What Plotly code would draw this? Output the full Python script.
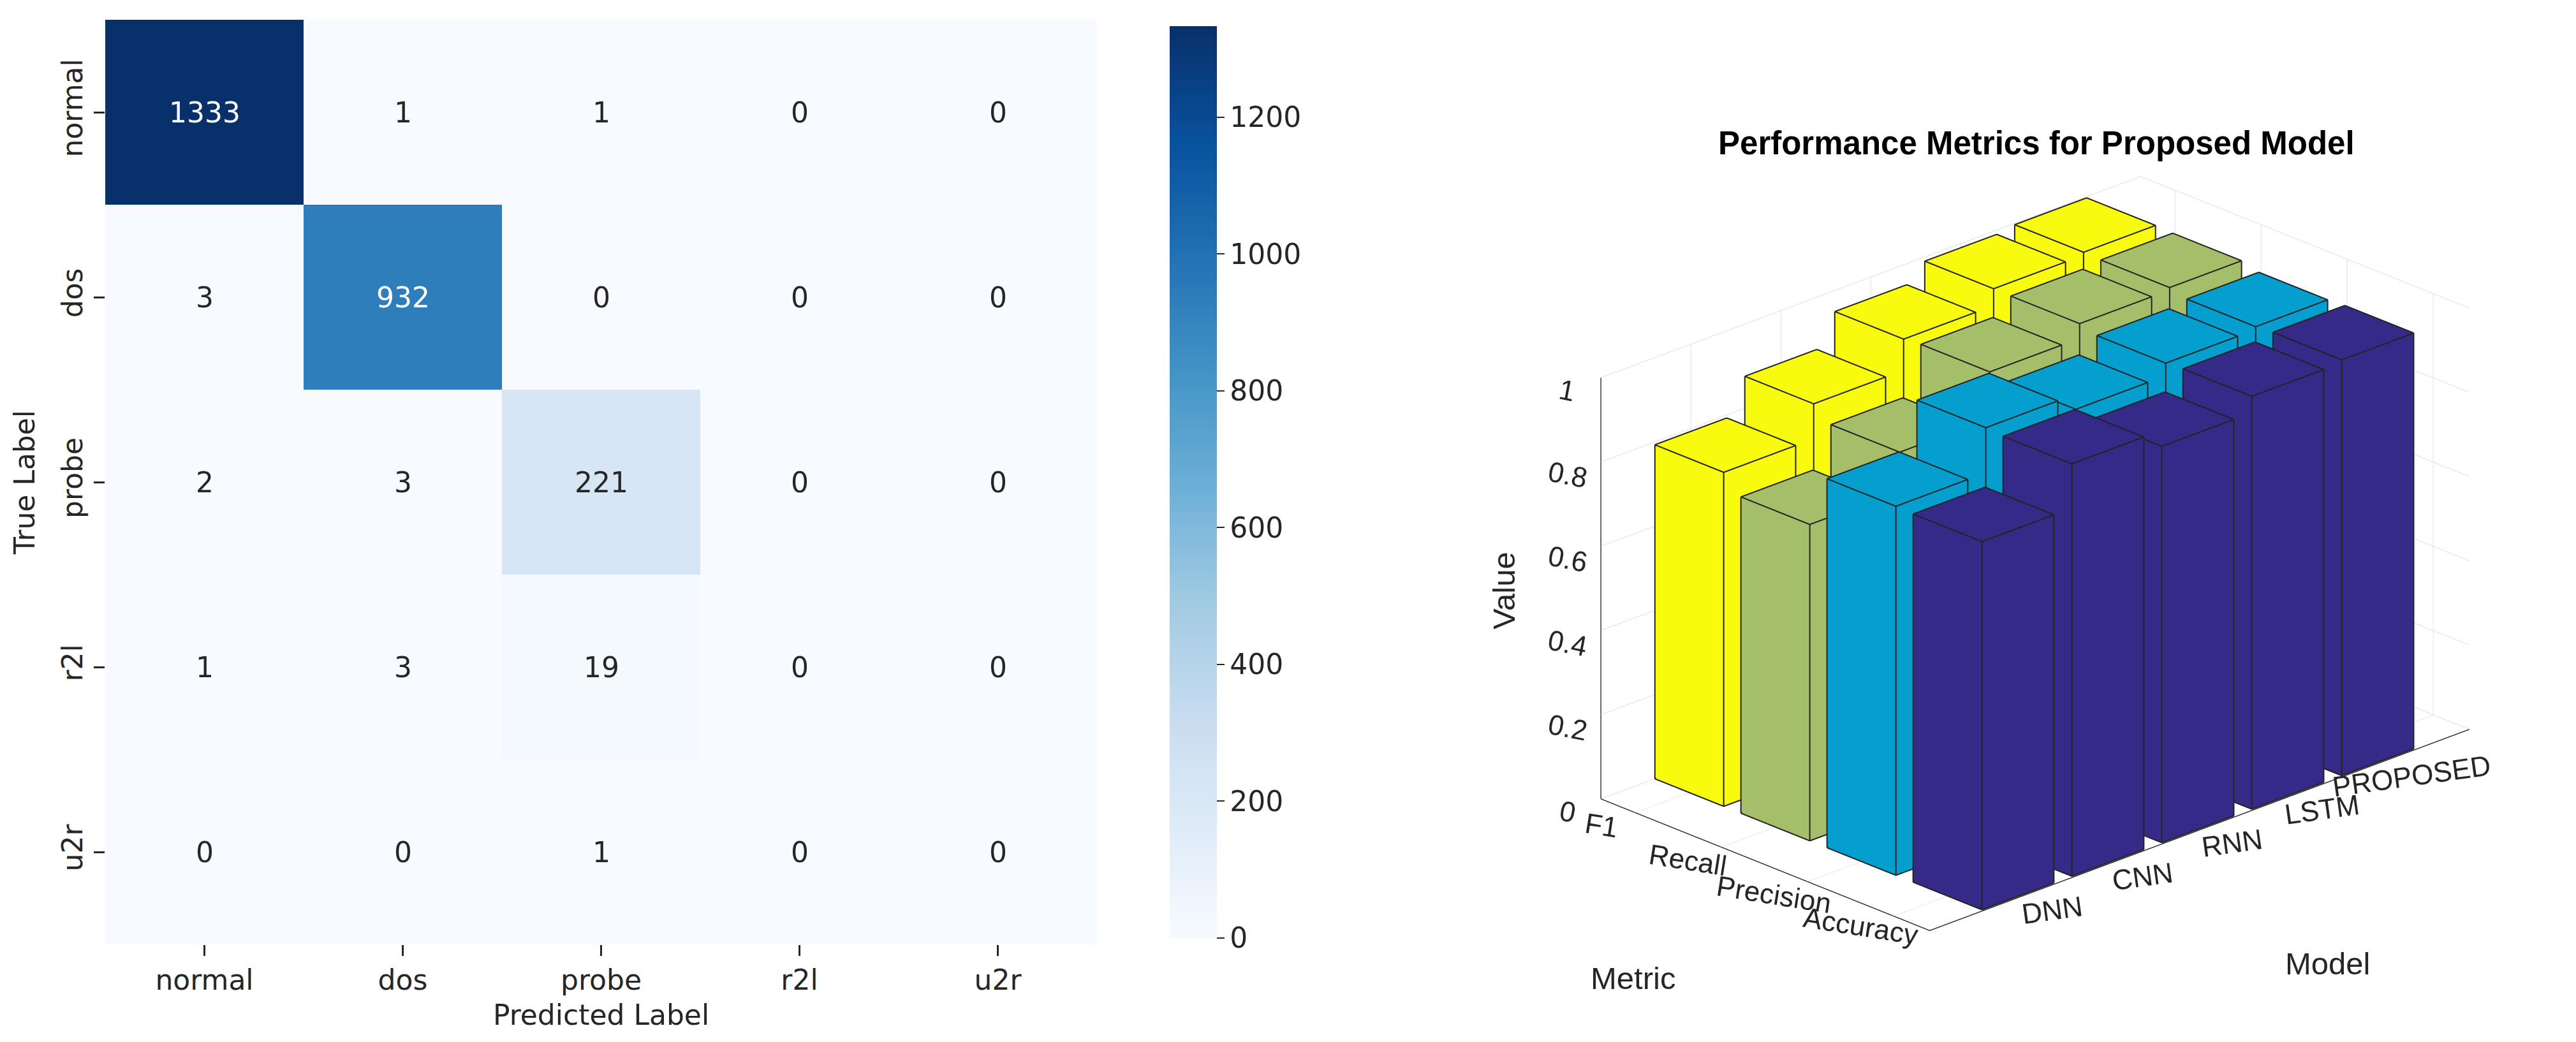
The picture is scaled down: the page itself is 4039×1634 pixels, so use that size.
import plotly.graph_objects as go

W, H = 4039, 1634

# confusion matrix (left panel)
classes = ["normal", "dos", "probe", "r2l", "u2r"]
cm = [
    [1333, 1, 1, 0, 0],
    [3, 932, 0, 0, 0],
    [2, 3, 221, 0, 0],
    [1, 3, 19, 0, 0],
    [0, 0, 1, 0, 0],
]
cbar_ticks = [0, 200, 400, 600, 800, 1000, 1200]

# performance metrics (right panel), one list per metric, ordered like models
models = ["DNN", "CNN", "RNN", "LSTM", "PROPOSED"]
metrics = ["Accuracy", "Precision", "Recall", "F1"]
accuracy = [0.874, 0.979, 0.941, 0.980, 0.987]
precision = [0.876, 0.983, 0.947, 0.977, 0.984]
recall = [0.751, 0.843, 0.954, 0.989, 0.995]
f1 = [0.793, 0.876, 0.950, 0.990, 0.997]
value_ticks = [0, 0.2, 0.4, 0.6, 0.8, 1]

scores = [accuracy, precision, recall, f1]
bar_colors = ["#352a87", "#059fcf", "#a5be6a", "#f9fb0e"]
edge_color = "#232323"
half = 0.4  # bar3 default width 0.8

# view / box settings for the 3D panel
x_rng, y_rng, z_rng = [0, 6], [0.58, 4.4], [0, 1]
s = 1.68
aspect = dict(x=1 * s, y=0.628 * s * (y_rng[1] - y_rng[0]) / 3.8, z=0.609 * s)
view_dir = (-0.64043, -0.66372, 0.38640)
r = 1.8

fig = go.Figure()

# ---- heatmap ----
zmax = max(max(row) for row in cm)
fig.add_trace(go.Heatmap(
    z=cm, x=classes, y=classes,
    colorscale="Blues", zmin=0, zmax=zmax,
    xaxis="x", yaxis="y", hoverinfo="skip",
    colorbar=dict(
        x=1816 / W, xanchor="left", y=1 - 748 / H, yanchor="middle",
        len=1450 / H, lenmode="fraction", thickness=74, thicknessmode="pixels",
        outlinewidth=0, ticks="outside", ticklen=12, tickwidth=2, tickcolor="#262626",
        tickvals=cbar_ticks, ticklabelposition="outside",
        tickfont=dict(family="DejaVu Sans", size=44, color="#262626"),
    ),
))

annotations = []
for ri, row in enumerate(cm):
    for c, v in enumerate(row):
        annotations.append(dict(
            x=classes[c], y=classes[ri], xref="x", yref="y", text=str(v),
            showarrow=False,
            font=dict(family="DejaVu Sans", size=44,
                      color="#ffffff" if v > zmax / 2 else "#262626"),
        ))

# ---- 3D bars ----
faces = [(0, 1, 2), (0, 2, 3), (4, 5, 6), (4, 6, 7), (0, 1, 5), (0, 5, 4),
         (1, 2, 6), (1, 6, 5), (2, 3, 7), (2, 7, 6), (3, 0, 4), (3, 4, 7)]
edges = [(0, 1), (1, 2), (2, 3), (3, 0), (4, 5), (5, 6), (6, 7), (7, 4),
         (0, 4), (1, 5), (2, 6), (3, 7)]


def corners(xc, yc, top, h):
    x0, x1, y0, y1 = xc - h, xc + h, yc - h, yc + h
    return [(x0, y0, 0), (x1, y0, 0), (x1, y1, 0), (x0, y1, 0),
            (x0, y0, top), (x1, y0, top), (x1, y1, top), (x0, y1, top)]


# nudge the edge lines a little toward the (orthographic) camera so they win the depth test
nudge = 0.006
off = (
    nudge * view_dir[0] * (x_rng[1] - x_rng[0]) / aspect["x"],
    nudge * view_dir[1] * (y_rng[1] - y_rng[0]) / aspect["y"],
    nudge * view_dir[2] * (z_rng[1] - z_rng[0]) / aspect["z"],
)

ex, ey, ez = [], [], []
for m, vals in enumerate(scores):
    xs, ys, zs, ii, jj, kk = [], [], [], [], [], []
    for k, v in enumerate(vals):
        base = len(xs)
        pts = corners(k + 1, m + 1, v, half)
        for (x, y, z) in pts:
            xs.append(x)
            ys.append(y)
            zs.append(z)
        for a, b, c in faces:
            ii.append(base + a)
            jj.append(base + b)
            kk.append(base + c)
        for a, b in edges:
            ex += [pts[a][0] + off[0], pts[b][0] + off[0], None]
            ey += [pts[a][1] + off[1], pts[b][1] + off[1], None]
            ez += [pts[a][2] + off[2], pts[b][2] + off[2], None]
    fig.add_trace(go.Mesh3d(
        x=xs, y=ys, z=zs, i=ii, j=jj, k=kk, color=bar_colors[m],
        flatshading=True, hoverinfo="skip", showscale=False,
        lighting=dict(ambient=1, diffuse=0, specular=0, roughness=1, fresnel=0),
        scene="scene", name=metrics[m],
    ))

fig.add_trace(go.Scatter3d(
    x=ex, y=ey, z=ez, mode="lines", line=dict(color=edge_color, width=4),
    hoverinfo="skip", scene="scene", showlegend=False,
))

axis_font = dict(family="Liberation Sans", size=23, color="#262626")


def scene_axis(rng, tickvals, ticktext, angle, tlen):
    # long white ticks push the labels out, like MATLAB's label offset
    return dict(
        title=dict(text=""), range=rng,
        tickvals=tickvals, ticktext=ticktext, tickfont=axis_font, tickangle=angle,
        showgrid=True, gridcolor="#dedede", gridwidth=2,
        showline=True, linecolor="#262626", linewidth=3,
        ticks="outside", tickcolor="#ffffff", ticklen=tlen, tickwidth=1,
        zeroline=False, showbackground=False, showspikes=False,
    )


label_font = dict(family="Liberation Sans", size=49, color="#262626")
axis_titles = [
    dict(text="Value", x=2350 / W, y=1 - 918 / H, textangle=-90),
    dict(text="Metric", x=2552 / W, y=1 - 1526 / H, textangle=0),
    dict(text="Model", x=3641 / W, y=1 - 1503 / H, textangle=0),
]
for t in axis_titles:
    t.update(xref="paper", yref="paper", xanchor="center", yanchor="middle",
             showarrow=False, font=label_font)

fig.update_layout(
    width=W, height=H, paper_bgcolor="white", plot_bgcolor="white",
    margin=dict(l=0, r=0, t=0, b=0), showlegend=False,
    xaxis=dict(
        domain=[157 / W, 1712 / W], anchor="y",
        ticks="outside", ticklen=17, tickwidth=2.5, tickcolor="#262626",
        tickfont=dict(family="DejaVu Sans", size=44, color="#262626"),
        title=dict(text="Predicted Label", standoff=15,
                   font=dict(family="DejaVu Sans", size=44, color="#262626")),
        showgrid=False, zeroline=False, showline=False,
    ),
    yaxis=dict(
        domain=[1 - 1473 / H, 1 - 23 / H], anchor="x", autorange="reversed",
        ticks="outside", ticklen=17, tickwidth=2.5, tickcolor="#262626",
        tickangle=-90,
        tickfont=dict(family="DejaVu Sans", size=44, color="#262626"),
        title=dict(text="True Label", standoff=20,
                   font=dict(family="DejaVu Sans", size=44, color="#262626")),
        showgrid=False, zeroline=False, showline=False,
    ),
    scene=dict(
        domain=dict(x=[(3183 - 800) / W, (3183 + 800) / W], y=[0.0453, 0.9021]),
        xaxis=scene_axis(x_rng, list(range(1, 6)), models, -8, 55),
        yaxis=scene_axis(y_rng, list(range(1, 5)), metrics, 9, 55),
        zaxis=scene_axis(z_rng, value_ticks, [f"{t:g}" for t in value_ticks], 11, 40),
        aspectmode="manual", aspectratio=aspect,
        camera=dict(
            eye=dict(x=view_dir[0] * r, y=view_dir[1] * r, z=view_dir[2] * r),
            up=dict(x=0, y=0, z=1), center=dict(x=0, y=0, z=0),
            projection=dict(type="orthographic"),
        ),
        bgcolor="white",
    ),
    annotations=annotations + axis_titles + [dict(
        text="<b>Performance Metrics for Proposed Model</b>",
        x=3185 / W, y=1 - 216 / H, xref="paper", yref="paper",
        xanchor="center", yanchor="middle", showarrow=False,
        font=dict(family="Liberation Sans", size=51, color="#000000"),
    )],
)

fig.write_html("out.html", config={"displayModeBar": False})
